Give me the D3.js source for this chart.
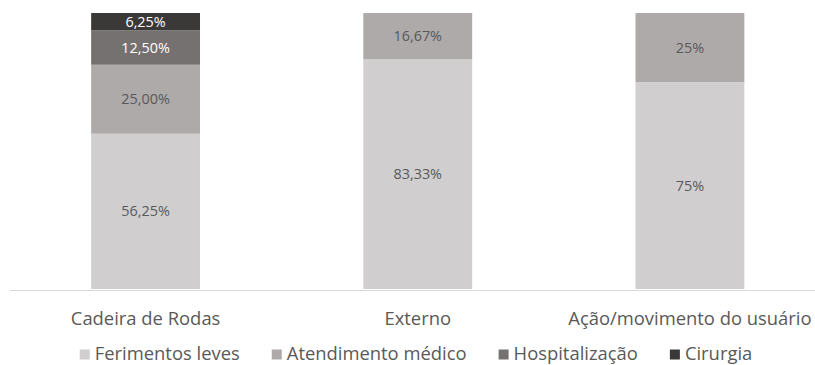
<!DOCTYPE html>
<html>
<head>
<meta charset="utf-8">
<script src="https://cdn.jsdelivr.net/npm/d3@7"></script>
<style>
  html, body { margin: 0; padding: 0; background: #fff; }
  svg { display: block; }
  text { font-family: "Open Sans", "Noto Sans", sans-serif; }
</style>
</head>
<body>
<svg id="chart" width="815" height="365"></svg>
<script>
// ---- data ----
const categories = ["Cadeira de Rodas", "Externo", "Ação/movimento do usuário"];
const seriesNames = ["Ferimentos leves", "Atendimento médico", "Hospitalização", "Cirurgia"];
const ferimentosLeves = [56.25, 83.33, 75];
const atendimentoMedico = [25.00, 16.67, 25];
const hospitalizacao = [12.50, 0, 0];
const cirurgia = [6.25, 0, 0];
const ferimentosLevesLabels = ["56,25%", "83,33%", "75%"];
const atendimentoMedicoLabels = ["25,00%", "16,67%", "25%"];
const hospitalizacaoLabels = ["12,50%", "", ""];
const cirurgiaLabels = ["6,25%", "", ""];
const seriesColors = ["#d0cece", "#aeaaaa", "#767171", "#3b3838"];
const labelColors = ["#595959", "#595959", "#ffffff", "#ffffff"];

const seriesValues = [ferimentosLeves, atendimentoMedico, hospitalizacao, cirurgia];
const seriesLabels = [ferimentosLevesLabels, atendimentoMedicoLabels, hospitalizacaoLabels, cirurgiaLabels];

const rows = categories.map((c, i) => {
  const r = { cat: c, idx: i };
  seriesNames.forEach((s, j) => { r[s] = seriesValues[j][i]; });
  return r;
});

const svg = d3.select("#chart");

const x = d3.scaleBand()
  .domain(categories)
  .range([9.5, 826])
  .paddingInner(0.6)
  .paddingOuter(0.3);

const y = d3.scaleLinear().domain([0, 100]).range([289, 13]);

const stack = d3.stack().keys(seriesNames);
const stacked = stack(rows);

// bars
const layers = svg.append("g").selectAll("g")
  .data(stacked)
  .join("g")
  .attr("fill", (d, i) => seriesColors[i]);

layers.selectAll("rect")
  .data(d => d)
  .join("rect")
  .attr("x", d => x(d.data.cat))
  .attr("width", x.bandwidth())
  .attr("y", d => y(d[1]))
  .attr("height", d => y(d[0]) - y(d[1]));

// data labels
stacked.forEach((layer, j) => {
  svg.append("g").selectAll("text")
    .data(layer.filter((d, i) => seriesLabels[j][d.data.idx] !== ""))
    .join("text")
    .attr("x", d => x(d.data.cat) + x.bandwidth() / 2)
    .attr("y", d => (y(d[0]) + y(d[1])) / 2)
    .attr("dy", "0.35em")
    .attr("text-anchor", "middle")
    .attr("font-size", "14.4px")
    .attr("fill", labelColors[j])
    .text(d => seriesLabels[j][d.data.idx]);
});

// axis
const xAxis = d3.axisBottom(x).tickSize(0).tickPadding(0);
const gx = svg.append("g").attr("transform", `translate(0,${y(0) + 1})`).call(xAxis);
gx.select(".domain").remove();
gx.selectAll("text")
  .attr("font-size", "18.4px")
  .attr("fill", "#595959")
  .attr("font-family", "'Open Sans', sans-serif")
  .attr("dy", null)
  .attr("y", 35);

svg.append("line")
  .attr("x1", 10).attr("x2", 815)
  .attr("y1", y(0) + 1.5).attr("y2", y(0) + 1.5)
  .attr("stroke", "#d9d9d9").attr("stroke-width", 1);

// legend
const legend = svg.append("g");
const items = legend.selectAll("g").data(seriesNames).join("g");
items.append("rect")
  .attr("width", 10).attr("height", 10)
  .attr("y", -10.5)
  .attr("fill", (d, i) => seriesColors[i]);
items.append("text")
  .attr("x", 15)
  .attr("font-size", "18.4px")
  .attr("fill", "#595959")
  .text(d => d);
let offset = 0;
const gap = 32;
items.each(function() {
  const w = this.getBBox().width;
  d3.select(this).attr("data-x", offset);
  offset += w + gap;
});
const totalW = offset - gap;
const startX = 416 - totalW / 2;
items.attr("transform", function() {
  return `translate(${startX + (+d3.select(this).attr("data-x"))},360)`;
});
</script>
</body>
</html>
